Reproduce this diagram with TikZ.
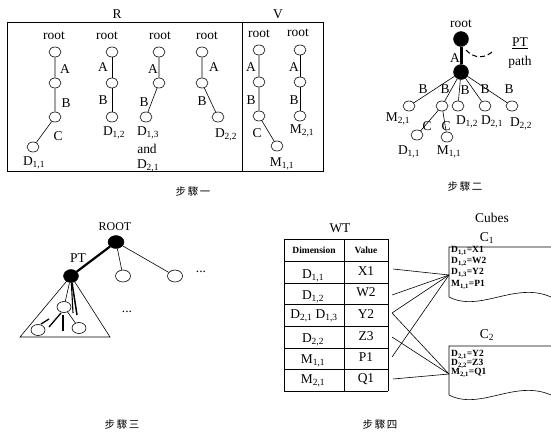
\documentclass[tikz,border=0pt]{standalone}
\usepackage{fontspec}
\setmainfont{Liberation Serif}
\newfontfamily\cjk{Noto Sans CJK TC}
\usetikzlibrary{shapes.geometric}
\newcommand\sbs[1]{\textsubscript{#1}}
\tikzset{
  wn/.style={draw, ellipse, minimum width=12bp, minimum height=10bp, inner sep=0pt, fill=white, line width=0.6bp},
  bn/.style={draw, ellipse, fill=black, minimum width=15bp, minimum height=15bp, inner sep=0pt},
  txt/.style={inner sep=0pt, font=\fontsize{13.5}{14}\selectfont},
  small/.style={inner sep=0pt, font=\bfseries\fontsize{9.5}{10}\selectfont},
  cell/.style={inner sep=0pt, anchor=west, font=\bfseries\fontsize{9.5}{10}\selectfont},
  cj/.style={inner sep=0pt, font=\cjk\fontsize{10.5}{12}\selectfont},
  ln/.style={line width=0.6bp},
  thk/.style={line width=3bp},
}
\begin{document}
\begin{tikzpicture}[x=1bp,y=-1bp]
\useasboundingbox (0,0) rectangle (551,432);

% ---------------- Step 1 ----------------
\node[txt] (R) at (117,14) {R};
\node[txt] (V) at (278,14) {V};
\draw[line width=0.8bp] (7,22) rectangle (323,171);
\draw[line width=0.8bp] (242,22) -- (242,171);

% tree 1
\node[txt] (t1r) at (54,36) {root};
\node[wn] (t1a) at (55,52) {};
\node[wn] (t1b) at (55,83) {};
\node[wn] (t1c) at (55,117) {};
\node[wn] (t1d) at (33,147) {};
\draw[ln] (t1a)--(t1b)--(t1c)--(t1d);
\node[txt] (t1A) at (65,69) {A};
\node[txt] (t1B) at (66,103) {B};
\node[txt] (t1C) at (58,136) {C};
\node[txt] (t1L) at (34,163) {D\sbs{1,1}};

% tree 2
\node[txt] (t2r) at (107,36) {root};
\node[wn] (t2a) at (112,52) {};
\node[wn] (t2b) at (112,83) {};
\node[wn] (t2c) at (112,117) {};
\draw[ln] (t2a)--(t2b)--(t2c);
\node[txt] (t2A) at (103,67) {A};
\node[txt] (t2B) at (103,100) {B};
\node[txt] (t2L) at (114,133) {D\sbs{1,2}};

% tree 3
\node[txt] (t3r) at (160,36) {root};
\node[wn] (t3a) at (159,52) {};
\node[wn] (t3b) at (159,83) {};
\node[wn] (t3c) at (146,117) {};
\draw[ln] (t3a)--(t3b)--(t3c);
\node[txt] (t3A) at (153,69) {A};
\node[txt] (t3B) at (144,102) {B};
\node[txt] (t3L) at (148,133) {D\sbs{1,3}};
\node[txt] (t3and) at (147,149) {and};
\node[txt] (t3L2) at (148,166) {D\sbs{2,1}};

% tree 4
\node[txt] (t4r) at (207,36) {root};
\node[wn] (t4a) at (202,52) {};
\node[wn] (t4b) at (202,83) {};
\node[wn] (t4c) at (218,117) {};
\draw[ln] (t4a)--(t4b)--(t4c);
\node[txt] (t4A) at (214,67) {A};
\node[txt] (t4B) at (202,101) {B};
\node[txt] (t4L) at (226,135) {D\sbs{2,2}};

% tree 5 (V)
\node[txt] (t5r) at (259,34) {root};
\node[wn] (t5a) at (259,50) {};
\node[wn] (t5b) at (259,82) {};
\node[wn] (t5c) at (259,116) {};
\node[wn] (t5d) at (277,146) {};
\draw[ln] (t5a)--(t5b)--(t5c)--(t5d);
\node[txt] (t5A) at (251,67) {A};
\node[txt] (t5B) at (251,100) {B};
\node[txt] (t5C) at (257,133) {C};
\node[txt] (t5L) at (282,164) {M\sbs{1,1}};

% tree 6 (V)
\node[txt] (t6r) at (298,33) {root};
\node[wn] (t6a) at (300,50) {};
\node[wn] (t6b) at (300,82) {};
\node[wn] (t6c) at (300,116) {};
\draw[ln] (t6a)--(t6b)--(t6c);
\node[txt] (t6A) at (294,67) {A};
\node[txt] (t6B) at (294,100) {B};
\node[txt] (t6L) at (302,131) {M\sbs{2,1}};

\node[cj] (s1) at (193,192) {步\,驟\,一};

% ---------------- Step 2 ----------------
\node[txt] (g0) at (461,24) {root};
\node[bn] (g1) at (461,39) {};
\node[bn] (g2) at (461,72) {};
\draw[thk] (g1)--(g2);
\node[txt] (gA) at (455,58) {A};
\draw[dashed, line width=1bp, dash pattern=on 5bp off 3bp] (466,50) .. controls (474,59) and (486,59) .. (494,50);
\node[txt] (gPT) at (520,43) {\underline{PT}};
\node[txt] (gpath) at (520,62) {path};

\node[wn] (h1) at (409,106) {};
\node[wn] (h2) at (442,106) {};
\node[wn] (h3) at (458,106) {};
\node[wn] (h4) at (485,106) {};
\node[wn] (h5) at (512,106) {};
\foreach \n in {h1,h2,h3,h4,h5} \draw[ln] (g2) -- (\n);
\node[txt] (hB1) at (423,89) {B};
\node[txt] (hB2) at (445,89) {B};
\node[txt] (hB3) at (465,90) {B};
\node[txt] (hB4) at (485,89) {B};
\node[txt] (hB5) at (509,89) {B};
\node[txt] (hL1) at (398,119) {M\sbs{2,1}};
\node[txt] (hL3) at (467,122) {D\sbs{1,2}};
\node[txt] (hL4) at (492,122) {D\sbs{2,1}};
\node[txt] (hL5) at (521,124) {D\sbs{2,2}};
\node[wn] (i1) at (417,135) {};
\node[wn] (i2) at (447,137) {};
\draw[ln] (h2) -- (i1);
\draw[ln] (h2) -- (i2);
\node[txt] (iC1) at (427,126) {C};
\node[txt] (iC2) at (446,126) {C};
\node[txt] (iL1) at (409,152) {D\sbs{1,1}};
\node[txt] (iL2) at (449,152) {M\sbs{1,1}};

\node[cj] (s2) at (465,187) {步\,驟\,二};

% ---------------- Step 3 ----------------
\node[inner sep=0pt, font=\fontsize{12}{13}\selectfont] (kR) at (115,227) {ROOT};
\node[txt] (kPT) at (78,258) {PT};
\draw[ln] (71,276) -- (20,337) -- (110,337) -- cycle;
\node[wn, minimum width=15bp, minimum height=12bp] (k2) at (123,276) {};
\node[wn, minimum width=15bp, minimum height=12bp] (k3) at (175,276) {};
\node[bn, minimum width=16bp, minimum height=13bp] (k0) at (116,242) {};
\node[bn, minimum width=15bp, minimum height=13bp] (k1) at (71,276) {};
\draw[line width=2.2bp] (k0) -- (k1);
\draw[ln] (k0) -- (k2);
\draw[ln] (k0) -- (k3);
\node[txt] (kdots1) at (201,272) {...};
\node[txt] (kdots2) at (127,312) {...};
\node[wn, minimum width=14bp, minimum height=11bp] (m1) at (64,307) {};
\node[wn, minimum width=14bp, minimum height=11bp] (m2) at (38,330) {};
\node[wn, minimum width=14bp, minimum height=11bp] (m3) at (79,328) {};
\draw[ln] (k1) -- (m1);
\draw[line width=1.1bp] (k1) -- (73,313);
\draw[line width=1.5bp] (k1) -- (77,315);
\draw[ln] (m1) -- (m3);
\draw[line width=1.3bp] (61,313) -- (49,327);
\draw[line width=1.3bp] (63,315) -- (63,331);
\draw[line width=1.3bp] (41,324) -- (49,319);

\node[cj] (s3) at (122,425) {步\,驟\,三};

% ---------------- Step 4 ----------------
\node[txt] (wt) at (340,228) {WT};
\foreach \y in {239,261,283,304,326,348,369,391}
  \draw[line width=1bp] (284,\y) -- (388,\y);
\draw[line width=1bp] (284,239) -- (284,391);
\draw[line width=1bp] (344,239) -- (344,391);
\draw[line width=1bp] (388,239) -- (388,391);
\node[small] (hd1) at (314,250) {Dimension};
\node[small] (hd2) at (366,250) {Value};
\node[txt] (w1a) at (313,276) {D\sbs{1,1}};
\node[txt] (w1b) at (366,271) {X1};
\node[txt] (w2a) at (313,297) {D\sbs{1,2}};
\node[txt] (w2b) at (366,292) {W2};
\node[txt] (w3a) at (314,316) {D\sbs{2,1} D\sbs{1,3}};
\node[txt] (w3b) at (366,314) {Y2};
\node[txt] (w4a) at (313,340) {D\sbs{2,2}};
\node[txt] (w4b) at (366,336) {Z3};
\node[txt] (w5a) at (313,361) {M\sbs{1,1}};
\node[txt] (w5b) at (366,357) {P1};
\node[txt] (w6a) at (313,381) {M\sbs{2,1}};
\node[txt] (w6b) at (366,379) {Q1};

\coordinate (o1) at (393,269);
\coordinate (o2) at (392,295);
\coordinate (o3) at (392,313);
\coordinate (o4) at (392,337);
\coordinate (o5) at (392,357);
\coordinate (o6) at (393,379);
\coordinate (c1in) at (449,275);
\coordinate (c2in) at (449,374);
\draw[ln] (o1) -- (c1in);
\draw[ln] (o2) -- (c1in);
\draw[ln] (o3) -- (c1in);
\draw[ln] (o3) -- (c2in);
\draw[ln] (o4) -- (c2in);
\draw[ln] (o5) -- (c1in);
\draw[ln] (o6) -- (c2in);

\node[txt] (cubes) at (492,218) {Cubes};
\node[txt] (c1lab) at (487,238) {C\sbs{1}};
\node[txt] (c2lab) at (487,335) {C\sbs{2}};
\draw[ln] (551,247) -- (449,247) -- (449,297) .. controls (480,313) and (515,281) .. (551,297);
\draw[ln] (551,346) -- (449,346) -- (449,395) .. controls (480,411) and (515,379) .. (551,395);

\node[cell] (c1t1) at (451,251) {D\sbs{1,1}=X1};
\node[cell] (c1t2) at (451,262) {D\sbs{1,2}=W2};
\node[cell] (c1t3) at (451,273) {D\sbs{1,3}=Y2};
\node[cell] (c1t4) at (451,285) {M\sbs{1,1}=P1};
\node[cell] (c2t1) at (451,355) {D\sbs{2,1}=Y2};
\node[cell] (c2t2) at (451,364) {D\sbs{2,2}=Z3};
\node[cell] (c2t3) at (451,373) {M\sbs{2,1}=Q1};

\node[cj] (s4) at (380,425) {步\,驟\,四};
\end{tikzpicture}
\end{document}
